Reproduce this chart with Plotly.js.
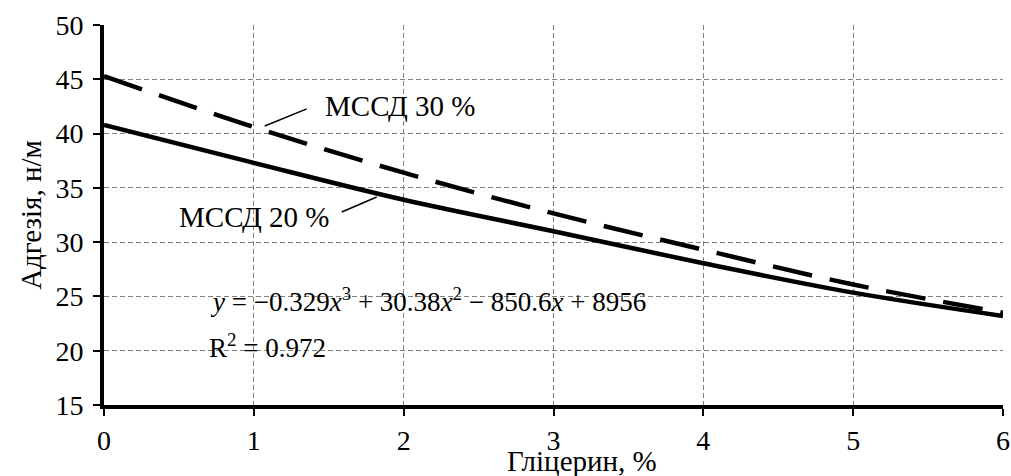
<!DOCTYPE html>
<html>
<head>
<meta charset="utf-8">
<script src="https://cdn.plot.ly/plotly-3.0.1.min.js"></script>
<style>html,body{margin:0;padding:0;background:#fff;}#chart{width:1011px;height:476px;}</style>
</head>
<body>
<div id="chart"></div>
<script>
const glycerol = [0, 1, 2, 3, 4, 5, 6];
const mssd20 = [40.8, 37.3, 33.9, 31.0, 28.05, 25.35, 23.2];
const mssd30 = [45.3, 40.6, 36.4, 32.65, 29.3, 26.1, 23.5];
const xTicks = [0, 1, 2, 3, 4, 5, 6];
const yTicks = [15, 20, 25, 30, 35, 40, 45, 50];
const label20 = 'МССД 20 %';
const label30 = 'МССД 30 %';
const xTitle = 'Гліцерин, %';
const yTitle = 'Адгезія, н/м';
const eqText = '<i>y</i> = −0.329<i>x</i><sup>3</sup> + 30.38<i>x</i><sup>2</sup> − 850.6<i>x</i> + 8956';
const r2Text = 'R<sup>2</sup> = 0.972';

const FONT = '"Liberation Serif", "Times New Roman", serif';
const FS = 29;
const TFS = 28;

const traces = [
  {x: glycerol, y: mssd30, mode: 'lines', line: {shape: 'spline', color: '#000', width: 4.5, dash: '40px,18px'}, hoverinfo: 'skip'},
  {x: glycerol, y: mssd20, mode: 'lines', line: {shape: 'spline', color: '#000', width: 4.5}, hoverinfo: 'skip'}
];

const layout = {
  width: 1011, height: 476,
  margin: {l: 104, r: 8, t: 25, b: 71},
  paper_bgcolor: '#fff', plot_bgcolor: '#fff',
  showlegend: false,
  font: {family: FONT, size: FS, color: '#000'},
  xaxis: {
    range: [0, 6], tickvals: xTicks, ticktext: xTicks.map(String),
    showline: true, linewidth: 4, linecolor: '#000',
    ticks: 'outside', ticklen: 7, tickwidth: 2, tickcolor: '#000',
    showgrid: true, gridcolor: '#808080', gridwidth: 1, griddash: '5px,3px',
    zeroline: false, fixedrange: true,
    tickfont: {family: FONT, size: TFS}
  },
  yaxis: {
    range: [15, 50], tickvals: yTicks, ticktext: yTicks.map(String),
    showline: true, linewidth: 4, linecolor: '#000',
    ticks: 'outside', ticklen: 7, tickwidth: 2, tickcolor: '#000',
    ticklabelstandoff: 4,
    showgrid: true, gridcolor: '#808080', gridwidth: 1, griddash: '5px,3px',
    zeroline: false, fixedrange: true,
    tickfont: {family: FONT, size: TFS},
    title: {text: yTitle, font: {family: FONT, size: FS}, standoff: 6}
  },
  shapes: [
    {type: 'rect', xref: 'x', yref: 'y', x0: 0.593, x1: 3.627, y0: 18.68, y1: 27.16,
     fillcolor: '#fff', line: {width: 0}, layer: 'below'},
    {type: 'line', xref: 'x', yref: 'y', x0: 1.073, y0: 40.70, x1: 1.353, y1: 42.27,
     line: {color: '#000', width: 1.5}},
    {type: 'line', xref: 'x', yref: 'y', x0: 1.587, y0: 32.78, x1: 1.82, y1: 34.16,
     line: {color: '#000', width: 1.5}}
  ],
  annotations: [
    {xref: 'x', yref: 'y', x: 1.46, y: 42.54, text: label30, showarrow: false, xanchor: 'left', yanchor: 'middle', font: {family: FONT, size: FS}},
    {xref: 'x', yref: 'y', x: 0.487, y: 32.32, text: label20, showarrow: false, xanchor: 'left', yanchor: 'middle', font: {family: FONT, size: FS}},
    {xref: 'x', yref: 'y', x: 0.693, y: 24.67, text: eqText, showarrow: false, xanchor: 'left', yanchor: 'middle', font: {family: FONT, size: 27}},
    {xref: 'x', yref: 'y', x: 0.69, y: 20.43, text: r2Text, showarrow: false, xanchor: 'left', yanchor: 'middle', font: {family: FONT, size: 27}},
    {xref: 'paper', yref: 'paper', x: 0.532, y: -0.147, text: xTitle, showarrow: false, xanchor: 'center', yanchor: 'middle', font: {family: FONT, size: FS}}
  ]
};

Plotly.newPlot('chart', traces, layout, {displayModeBar: false, staticPlot: true});
</script>
</body>
</html>
